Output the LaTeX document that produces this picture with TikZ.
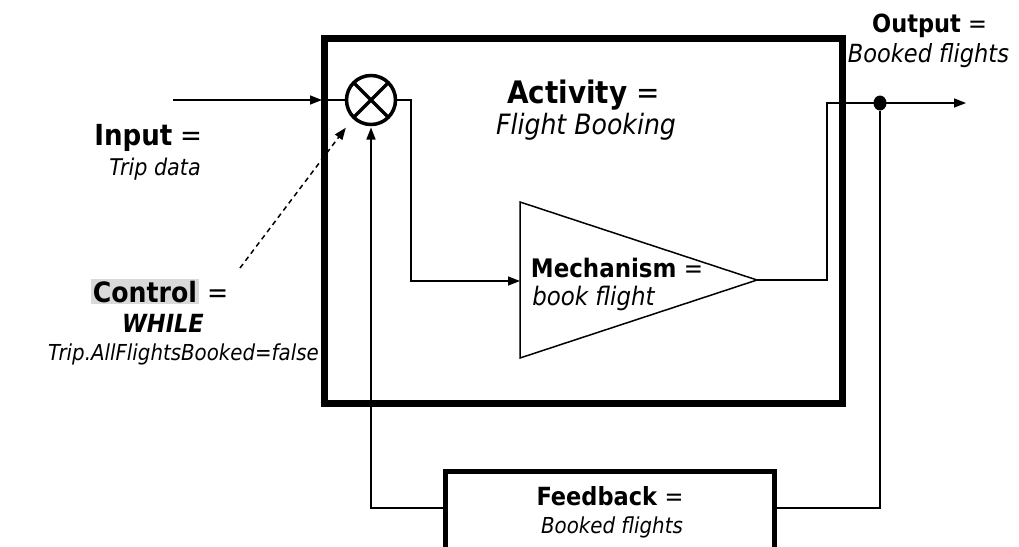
\documentclass[tikz,border=0pt]{standalone}
\usepackage{fontspec}
\setmainfont{DejaVu Sans Condensed}
\usetikzlibrary{arrows.meta,calc,shapes.geometric}
\definecolor{hl}{HTML}{D9D9D9}
\newcommand{\fsz}[1]{\fontsize{#1}{#1}\selectfont}
\begin{document}
\begin{tikzpicture}[x=1pt,y=-1pt,
  conn/.style={line width=1.5pt},
  arr/.style={line width=1.5pt,-{Triangle[length=12pt,width=9pt]}},
  ctrl/.style={line width=1.5pt,dash pattern=on 5pt off 4pt,-{Triangle[length=12pt,width=9pt]}},
  txt/.style={inner sep=0pt,outer sep=0pt,anchor=base}]
\useasboundingbox (0,0) rectangle (1019,546);
% activity box
\node[draw,line width=7pt,minimum width=517.5pt,minimum height=365pt,inner sep=0pt,outer sep=0pt] (act) at (583.25,221) {};
% summing junction
\node[draw,circle,line width=3.5pt,minimum size=49pt,inner sep=0pt,outer sep=0pt] (sum) at (371,100) {};
\draw[line width=3.5pt] (sum.north west) -- (sum.south east) (sum.north east) -- (sum.south west);
% mechanism triangle
\coordinate (mechTL) at (520,202);
\coordinate (mechBL) at (520,358);
\coordinate (mechTip) at (757,280);
\coordinate (mechL) at (520,281);
\draw[line width=1.5pt,line join=miter] (mechTL) -- (mechTip) -- (mechBL) -- cycle;
% feedback box
\node[draw,line width=5pt,minimum width=329pt,minimum height=79pt,inner sep=0pt,outer sep=0pt] (fb) at (610,511) {};
\coordinate (fbR) at ($(fb.north east)+(0,36.5)$);
\coordinate (fbL) at ($(fb.north west)+(0,36.5)$);
% split dot
\node[fill=black,ellipse,minimum width=13pt,minimum height=15pt,inner sep=0pt] (split) at (880,103) {};
% coordinates
\coordinate (inStart) at (173,100);
\coordinate (boxL) at (322,100);
\coordinate (j1) at (411,100);
\coordinate (j2) at (827,103);
\coordinate (outEnd) at (966,103);
\coordinate (ctrlStart) at (240,268);
% connectors
\draw[arr] (inStart) -- (boxL);
\draw[conn] (boxL) -- (sum.west);
\draw[arr] (sum.east) -- (j1) |- (mechL);
\draw[arr] (mechTip) -| (j2) -- (outEnd);
\draw[conn] (split) |- (fbR);
\draw[arr,shorten >=3pt] (fbL) -| (sum.south);
\draw[ctrl,shorten >=13pt] (ctrlStart) -- (sum.south west);
% texts
\node[txt,font={\fsz{31}}] (actT) at (583.5,103) {\textbf{Activity} =};
\node[txt,font={\fsz{28}\itshape}] (actD) at (586,134) {Flight Booking};
\node[txt,font={\fsz{25}}] (outT) at (929.5,32) {\textbf{Output} =};
\node[txt,font={\fsz{25}\itshape}] (outD) at (928.5,62) {Booked flights};
\node[txt,font={\fsz{29}}] (inT) at (148.5,145) {\textbf{Input} =};
\node[txt,font={\fsz{23}\itshape}] (inD) at (155,175) {Trip data};
\node[txt,font={\fsz{28}}] (ctrlT) at (159.5,302) {{\setlength{\fboxsep}{2pt}\colorbox{hl}{\textbf{Control}}} =};
\node[txt,font={\fsz{25}\bfseries\itshape}] (ctrlW) at (163,332) {WHILE};
\node[txt,font={\fsz{22}\itshape}] (ctrlC) at (183.5,360) {Trip.AllFlightsBooked=false};
\node[txt,font={\fsz{25.5}}] (mechT) at (617,277) {\textbf{Mechanism} =};
\node[txt,font={\fsz{25.5}\itshape}] (mechD) at (593.5,305) {book flight};
\node[txt,font={\fsz{25}}] (fbT) at (610,505) {\textbf{Feedback} =};
\node[txt,font={\fsz{22}\itshape}] (fbD) at (612,533) {Booked flights};
\end{tikzpicture}
\end{document}
